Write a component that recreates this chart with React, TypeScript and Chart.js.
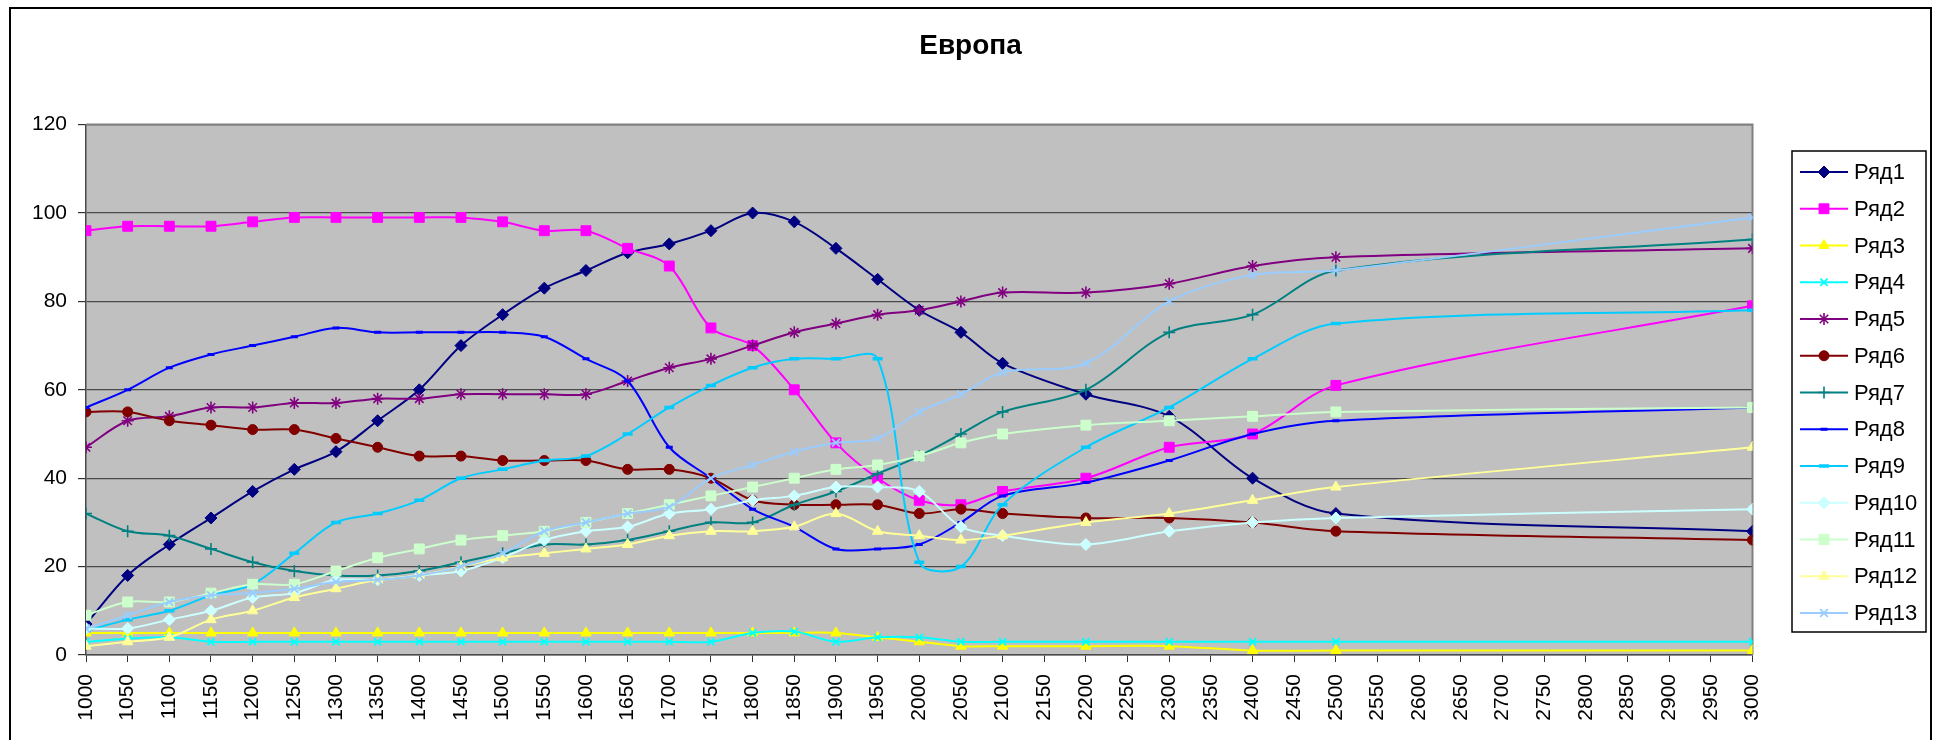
import React, { useEffect, useRef } from "react";
import { Chart, registerables } from "chart.js";
import { drawPoint } from "chart.js/helpers";

Chart.register(...registerables);

const FONT = '"Liberation Sans", Arial, sans-serif';

const chartTitle = "Европа";
const years = [1000, 1050, 1100, 1150, 1200, 1250, 1300, 1350, 1400, 1450, 1500, 1550, 1600, 1650, 1700, 1750, 1800, 1850, 1900, 1950, 2000, 2050, 2100, 2200, 2300, 2400, 2500, 3000];
const seriesNames = ["Ряд1", "Ряд2", "Ряд3", "Ряд4", "Ряд5", "Ряд6", "Ряд7", "Ряд8", "Ряд9", "Ряд10", "Ряд11", "Ряд12", "Ряд13"];

const ryad1 = [7, 18, 25, 31, 37, 42, 46, 53, 60, 70, 77, 83, 87, 91, 93, 96, 100, 98, 92, 85, 78, 73, 66, 59, 54, 40, 32, 28];
const ryad2 = [96, 97, 97, 97, 98, 99, 99, 99, 99, 99, 98, 96, 96, 92, 88, 74, 70, 60, 48, 40, 35, 34, 37, 40, 47, 50, 61, 79];
const ryad3 = [5, 5, 5, 5, 5, 5, 5, 5, 5, 5, 5, 5, 5, 5, 5, 5, 5, 5, 5, 4, 3, 2, 2, 2, 2, 1, 1, 1];
const ryad4 = [3, 3.7, 4, 3, 3, 3, 3, 3, 3, 3, 3, 3, 3, 3, 3, 3, 5, 5.3, 3, 4, 4, 3, 3, 3, 3, 3, 3, 3];
const ryad5 = [47, 53, 54, 56, 56, 57, 57, 58, 58, 59, 59, 59, 59, 62, 65, 67, 70, 73, 75, 77, 78, 80, 82, 82, 84, 88, 90, 92];
const ryad6 = [55, 55, 53, 52, 51, 51, 49, 47, 45, 45, 44, 44, 44, 42, 42, 40, 35, 34, 34, 34, 32, 33, 32, 31, 31, 30, 28, 26];
const ryad7 = [32, 28, 27, 24, 21, 19, 18, 18, 19, 21, 23, 25, 25, 26, 28, 30, 30, 34, 37, 41, 45, 50, 55, 60, 73, 77, 87, 94];
const ryad8 = [56, 60, 65, 68, 70, 72, 74, 73, 73, 73, 73, 72, 67, 62, 47, 40, 33, 29, 24, 24, 25, 30, 36, 39, 44, 50, 53, 56];
const ryad9 = [5.5, 8, 10, 13.5, 16, 23, 30, 32, 35, 40, 42, 44, 45, 50, 56, 61, 65, 67, 67, 67, 21, 20, 34, 47, 56, 67, 75, 78];
const ryad10 = [6, 6, 8, 10, 13, 14, 17, 17, 18, 19, 22, 26, 28, 29, 32, 33, 35, 36, 38, 38, 37, 29, 27, 25, 28, 30, 31, 33];
const ryad11 = [9, 12, 12, 14, 16, 16, 19, 22, 24, 26, 27, 28, 30, 32, 34, 36, 38, 40, 42, 43, 45, 48, 50, 52, 53, 54, 55, 56];
const ryad12 = [2, 3, 4, 8, 10, 13, 15, 17, 18, 20, 22, 23, 24, 25, 27, 28, 28, 29, 32, 28, 27, 26, 27, 30, 32, 35, 38, 47];
const ryad13 = [6, 9, 12, 13.5, 14, 15, 16.5, 17, 18, 20, 23, 28, 30, 32, 33.5, 40, 43, 46, 48, 49, 55, 59, 64, 66, 80, 86, 87, 99];

const seriesValues = [ryad1, ryad2, ryad3, ryad4, ryad5, ryad6, ryad7, ryad8, ryad9, ryad10, ryad11, ryad12, ryad13];
const seriesColors = ["#000080", "#FF00FF", "#FFFF00", "#00FFFF", "#800080", "#800000", "#008080", "#0000FF", "#00CCFF", "#CCFFFF", "#CCFFCC", "#FFFF99", "#99CCFF"];
const seriesMarkers = ["rectRot", "rect", "triangle", "crossRot", "star", "circle", "cross", "line", "line", "rectRot", "rect", "triangle", "crossRot"];
const markerSizes = [6, 7, 6, 5, 6, 5, 6, 3.5, 5, 6, 7, 6, 5.5];
const markerBorders = [1, 1, 1, 1.8, 1.6, 1, 1.6, 3, 3.5, 1, 1, 1, 1.8];

const xMin = 1000;
const xMax = 3000;
const xStep = 50;
const yMin = 0;
const yMax = 120;
const yStep = 20;

const plotBgPlugin = {
  id: "plotBg",
  beforeDraw(chart: any) {
    const { ctx, chartArea } = chart;
    ctx.save();
    ctx.fillStyle = "#C0C0C0";
    ctx.fillRect(chartArea.left, chartArea.top, chartArea.right - chartArea.left, chartArea.bottom - chartArea.top);
    ctx.restore();
  },
  beforeDatasetsDraw(chart: any) {
    const { ctx, chartArea } = chart;
    ctx.save();
    ctx.strokeStyle = "#808080";
    ctx.lineWidth = 2;
    ctx.beginPath();
    ctx.moveTo(chartArea.left, chartArea.top);
    ctx.lineTo(chartArea.right, chartArea.top);
    ctx.lineTo(chartArea.right, chartArea.bottom);
    ctx.stroke();
    ctx.restore();
  },
};

const boxLegendPlugin = {
  id: "boxLegend",
  afterDraw(chart: any) {
    const ctx = chart.ctx;
    const L = 1781, T = 142, R = 1915, B = 623;
    ctx.save();
    ctx.fillStyle = "#FFFFFF";
    ctx.fillRect(L, T, R - L, B - T);
    ctx.strokeStyle = "#000000";
    ctx.lineWidth = 1.5;
    ctx.strokeRect(L, T, R - L, B - T);
    chart.data.datasets.forEach((ds: any, i: number) => {
      const y = 163 + i * 36.75;
      ctx.strokeStyle = ds.borderColor;
      ctx.lineWidth = 2;
      ctx.beginPath();
      ctx.moveTo(1789, y);
      ctx.lineTo(1837, y);
      ctx.stroke();
      ctx.fillStyle = ds.pointBackgroundColor;
      ctx.strokeStyle = ds.pointBorderColor;
      ctx.lineWidth = ds.pointBorderWidth;
      drawPoint(ctx, { pointStyle: ds.pointStyle, radius: ds.pointRadius, rotation: 0, borderWidth: ds.pointBorderWidth } as any, 1813, y);
      ctx.fillStyle = "#000000";
      ctx.font = `22px ${FONT}`;
      ctx.textAlign = "left";
      ctx.textBaseline = "middle";
      ctx.fillText(ds.label, 1843, y + 1);
    });
    ctx.restore();
  },
};

export default function App() {
  const canvasRef = useRef<HTMLCanvasElement | null>(null);

  useEffect(() => {
    if (!canvasRef.current) return;
    const datasets = seriesNames.map((name, i) => ({
      label: name,
      data: years.map((x, j) => ({ x, y: seriesValues[i][j] })),
      borderColor: seriesColors[i],
      backgroundColor: seriesColors[i],
      borderWidth: 2,
      pointStyle: seriesMarkers[i],
      pointRadius: markerSizes[i],
      pointBackgroundColor: seriesColors[i],
      pointBorderColor: seriesColors[i],
      pointBorderWidth: markerBorders[i],
      tension: 0.33,
      fill: false,
      order: seriesNames.length - i,
    }));

    const chart = new Chart(canvasRef.current, {
      type: "line",
      data: { datasets },
      options: {
        responsive: false,
        animation: false,
        events: [],
        layout: { padding: 0 },
        plugins: {
          legend: { display: false },
          tooltip: { enabled: false },
          title: {
            display: true,
            text: chartTitle,
            color: "#000000",
            font: { family: FONT, size: 28, weight: "bold", lineHeight: 1.2 },
            padding: { top: 20, bottom: 62 },
          },
        },
        scales: {
          x: {
            type: "linear",
            position: "bottom",
            min: xMin,
            max: xMax,
            ticks: {
              stepSize: xStep,
              autoSkip: false,
              maxRotation: 90,
              minRotation: 90,
              color: "#000000",
              font: { family: FONT, size: 21 },
              padding: 12,
              callback: (v: any) => String(v),
            },
            grid: { drawOnChartArea: false, drawTicks: true, tickLength: 7, tickColor: "#333333", color: "#333333" },
            border: { display: true, color: "#4a4a4a", width: 1.5 },
            afterFit: (s: any) => { s.height = 85; },
          },
          y: {
            type: "linear",
            position: "left",
            min: yMin,
            max: yMax,
            ticks: {
              stepSize: yStep,
              color: "#000000",
              font: { family: FONT, size: 21 },
              padding: 11,
            },
            grid: { color: "#4a4a4a", lineWidth: 1.2, tickLength: 8, tickColor: "#333333" },
            border: { display: true, color: "#4a4a4a", width: 1.5 },
            afterFit: (s: any) => { s.width = 75; },
          },
          yR: {
            type: "linear",
            position: "right",
            display: true,
            ticks: { display: false },
            grid: { display: false },
            border: { display: false },
            afterFit: (s: any) => { s.width = 177.5; },
          },
        },
      } as any,
      plugins: [plotBgPlugin, boxLegendPlugin],
    });
    return () => chart.destroy();
  }, []);

  return (
    <div
      style={{
        position: "absolute",
        left: 9,
        top: 7,
        width: 1919,
        height: 731,
        borderLeft: "2px solid #000",
        borderRight: "2px solid #000",
        borderTop: "2px solid #000",
        background: "#fff",
      }}
    >
      <canvas ref={canvasRef} width={1919} height={731} style={{ display: "block", width: 1919, height: 731 }} />
    </div>
  );
}
